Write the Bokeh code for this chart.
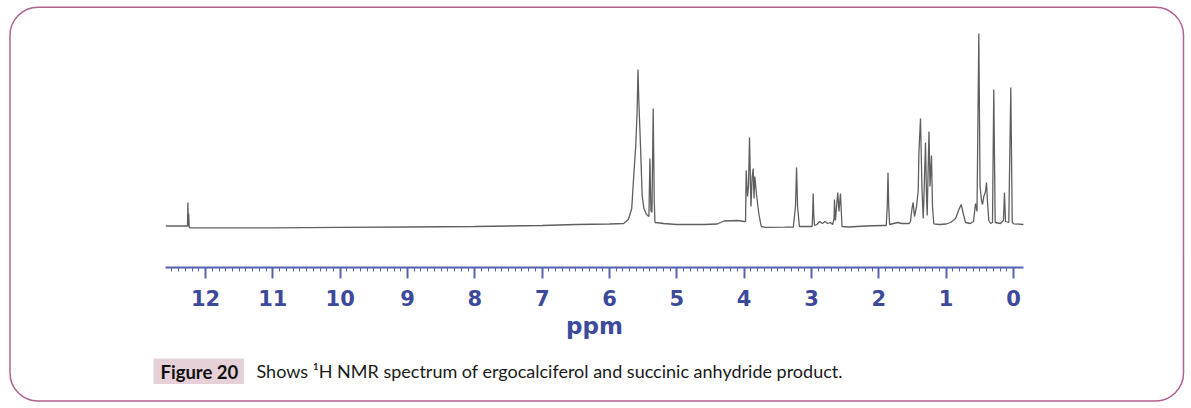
from bokeh.plotting import figure
from bokeh.models import Range1d, LinearAxis, FixedTicker, Label, BoxAnnotation, ColumnDataSource
from bokeh.embed import file_html
from bokeh.resources import INLINE

# ---- data (chemical shift in ppm, relative intensity) ----
ppm = [12.59, 12.28, 12.268, 12.262, 12.256, 12.25, 12.243, 12.235, 11.0, 10.0, 9.0, 8.0, 7.0, 6.5, 6.0,
       5.79, 5.72, 5.67, 5.64, 5.61, 5.59, 5.577, 5.565, 5.54, 5.515, 5.49, 5.45, 5.415, 5.40, 5.385,
       5.37, 5.351, 5.336, 5.325, 5.25, 5.2, 5.0, 4.6, 4.4, 4.3, 4.1, 4.0, 3.98,
       3.970, 3.951, 3.936, 3.921, 3.899, 3.881, 3.866, 3.854, 3.842, 3.817, 3.783, 3.747,
       3.68, 3.4, 3.27, 3.238, 3.222, 3.207, 3.18, 3.05, 2.99, 2.982, 2.975, 2.967, 2.955,
       2.92, 2.88, 2.84, 2.80, 2.76, 2.72, 2.685, 2.665, 2.659, 2.645, 2.61, 2.592, 2.57, 2.547,
       2.45, 2.2, 1.95, 1.89, 1.875, 1.864, 1.853, 1.84, 1.78, 1.72, 1.66, 1.6, 1.55,
       1.53, 1.505, 1.49, 1.47, 1.44, 1.415, 1.405, 1.381, 1.36, 1.341, 1.33, 1.307, 1.292,
       1.282, 1.27, 1.255, 1.24, 1.233, 1.218, 1.203, 1.184, 1.1, 1.0, 0.936, 0.86, 0.817,
       0.777, 0.743, 0.713, 0.64, 0.594, 0.564, 0.542, 0.515, 0.497, 0.475, 0.46, 0.441,
       0.416, 0.401, 0.386, 0.367, 0.34, 0.312, 0.293, 0.272, 0.193, 0.149, 0.134, 0.119,
       0.07, 0.04, 0.019, -0.005, -0.148]
intensity = [0.5, 0.5, 0, 24, 0, 13, 0, -1.3, -1.3, -0.8, -0.5, 0, 1, 2, 2.5,
             3, 7, 18, 51, 81, 116, 157, 126, 81, 31, 18, 12, 10, 68, 16,
             14, 118, 26, 4, 3.5, 3, 2, 2, 2.5, 5.5, 6, 5, 5,
             56, 30, 40, 89, 20, 50, 58, 28, 50, 32, 13, 0,
             -0.8, -0.7, -0.5, 20, 59, 20, 0, 0, 0, 15, 33, 12, 1,
             2, 5, 3, 5, 3, 4, 2, 8, 27, 6, 34, 15, 33, 0,
             -0.5, 0.5, 1, 1, 20, 54, 20, 2, 3, 4, 3, 3, 3,
             5, 19, 24, 10, 20, 36, 74, 108, 40, 8, 30, 84, 30,
             11, 50, 95, 40, 50, 71, 20, 2.7, 2, 2.5, 4, 8, 16,
             22, 12, 4, 3, 5, 23, 15, 193, 40, 26, 22, 30,
             35, 44, 25, 6, 3, 4, 137, 4, 3, 6, 34, 5,
             4, 139, 4, 2.7, 2]

major_ticks = [0, 1, 2, 3, 4, 5, 6, 7, 8, 9, 10, 11, 12]
axis_title = "ppm"
axis_extent = (-0.1485, 12.594)
caption_tag = "Figure 20"
caption_text = "Shows \u00b9H NMR spectrum of ergocalciferol and succinic anhydride product."

minor_ticks = [round(i * 0.1, 1) for i in range(0, 126)]

W, H = 1190, 406
PX_PER_PPM = 67.33
X0 = 1013.0      # canvas x of 0 ppm
Y0 = 226.0       # canvas y of zero intensity

p = figure(width=W, height=H, output_backend="svg", toolbar_location=None,
           x_range=Range1d(X0 / PX_PER_PPM, (X0 - W) / PX_PER_PPM),
           y_range=Range1d(Y0 - H, Y0),
           x_axis_type=None, y_axis_type=None,
           min_border=0, min_border_left=0, min_border_right=0,
           min_border_top=0, min_border_bottom=0)
p.outline_line_color = None
p.background_fill_color = "white"
p.border_fill_color = "white"

src = ColumnDataSource(dict(ppm=ppm, intensity=intensity))
p.line(x="ppm", y="intensity", source=src, line_color="#5f5f5f", line_width=1.3)

ax = LinearAxis(ticker=FixedTicker(ticks=major_ticks, minor_ticks=minor_ticks), axis_label=axis_title,
                bounds=axis_extent, fixed_location=Y0 - 267)
ax.axis_line_color = "#5463b0"
ax.axis_line_width = 2
ax.major_tick_line_color = "#5463b0"
ax.major_tick_line_width = 2
ax.major_tick_in = 0
ax.major_tick_out = 11
ax.minor_tick_line_color = "#5463b0"
ax.minor_tick_line_width = 1
ax.minor_tick_in = 0
ax.minor_tick_out = 4
ax.major_label_text_font = "DejaVu Sans"
ax.major_label_text_font_style = "bold"
ax.major_label_text_font_size = "21px"
ax.major_label_text_color = "#3d4a9b"
ax.major_label_standoff = 11
ax.axis_label_text_font = "DejaVu Sans"
ax.axis_label_text_font_style = "bold"
ax.axis_label_text_font_size = "23px"
ax.axis_label_text_color = "#3d4a9b"
ax.axis_label_standoff = 4
p.add_layout(ax, "below")

frame_box = BoxAnnotation(left=9.5, right=1183, top=6.75, bottom=400.5,
                          left_units="canvas", right_units="canvas",
                          top_units="canvas", bottom_units="canvas",
                          fill_alpha=0, line_color="#b0628f", line_alpha=1, line_width=1.5,
                          border_radius=28)
p.add_layout(frame_box)

tag_box = BoxAnnotation(left=153, right=243.5, top=358, bottom=383.5,
                        left_units="canvas", right_units="canvas",
                        top_units="canvas", bottom_units="canvas",
                        fill_color="#e7d1d8", fill_alpha=1, line_color=None)
p.add_layout(tag_box)

tag = Label(x=160, y=371, x_units="canvas", y_units="canvas", text=caption_tag,
            text_font="Lato", text_font_style="bold", text_font_size="18.5px",
            text_color="#111111", text_baseline="middle", text_align="left")
p.add_layout(tag)

cap = Label(x=256, y=370, x_units="canvas", y_units="canvas", text=caption_text,
            text_font="Lato", text_font_size="18px", text_color="#1a1a1a",
            text_baseline="middle", text_align="left")
p.add_layout(cap)

open("out.html", "w").write(file_html(p, INLINE))
